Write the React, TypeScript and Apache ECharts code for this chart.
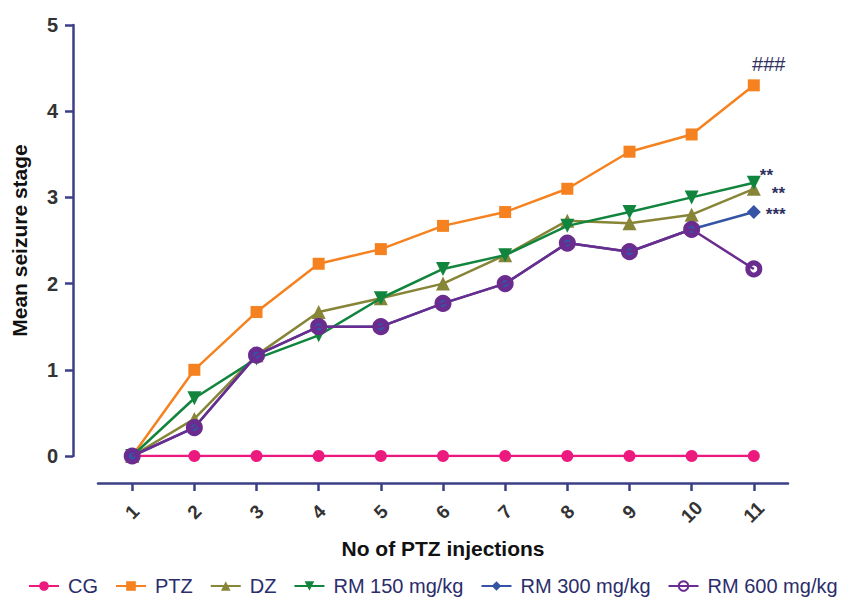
import React, { useEffect, useRef } from "react";
import * as echarts from "echarts";

const injections = [1, 2, 3, 4, 5, 6, 7, 8, 9, 10, 11];
const yTicks = [0, 1, 2, 3, 4, 5];

const seriesNames = ["CG", "PTZ", "DZ", "RM 150 mg/kg", "RM 300 mg/kg", "RM 600 mg/kg"];
const cg = [0, 0, 0, 0, 0, 0, 0, 0, 0, 0, 0];
const ptz = [0, 1.0, 1.67, 2.23, 2.4, 2.67, 2.83, 3.1, 3.53, 3.73, 4.3];
const dz = [0, 0.43, 1.17, 1.67, 1.83, 2.0, 2.33, 2.73, 2.7, 2.8, 3.1];
const rm150 = [0, 0.67, 1.13, 1.4, 1.83, 2.17, 2.33, 2.67, 2.83, 3.0, 3.17];
const rm300 = [0, 0.33, 1.17, 1.5, 1.5, 1.77, 2.0, 2.47, 2.37, 2.63, 2.83];
const rm600 = [0, 0.33, 1.17, 1.5, 1.5, 1.77, 2.0, 2.47, 2.37, 2.63, 2.17];
const significance = ["", "###", "**", "**", "***", ""];

const colors = ["#ec1a7f", "#f5821f", "#878537", "#11853d", "#3654a5", "#6b2c8f"];
const symbols = ["circle", "rect", "triangle", "triangle", "diamond", "circle"];

export default function App() {
  const ref = useRef<HTMLDivElement>(null);
  useEffect(() => {
    if (!ref.current) return;
    const chart = echarts.init(ref.current, null, { renderer: "svg" });
    const values = [cg, ptz, dz, rm150, rm300, rm600];
    const sizes = [12, 12, 14, 14, 14, 12];
    const labelOffsets: any[] = [
      [0, 0],
      [15, 0],
      [6, 5],
      [-6, -7],
      [0, 2],
      [0, 0],
    ];
    const labelPos = ["right", "top", "right", "right", "right", "right"];
    const series = values.map((vals, s) => ({
      name: seriesNames[s],
      type: "line",
      data: vals.map((v, i) => {
        const item: any = { value: [injections[i], v] };
        if (i === vals.length - 1 && significance[s]) {
          item.label = {
            show: true,
            formatter: significance[s],
            position: labelPos[s],
            offset: labelOffsets[s],
            color: "#2e3060",
            fontSize: s === 1 ? 20 : 17,
            fontWeight: s === 1 ? "normal" : "bold",
            fontFamily: "Liberation Sans",
          };
        }
        return item;
      }),
      symbol: symbols[s],
      symbolSize: sizes[s],
      symbolRotate: s === 3 ? 180 : 0,
      lineStyle: { color: colors[s], width: 2.5 },
      itemStyle:
        s === 5
          ? { color: "rgba(0,0,0,0)", borderColor: colors[s], borderWidth: 5 }
          : { color: colors[s], borderWidth: 0 },
      emphasis: { disabled: true },
      z: 2 + s,
    }));
    chart.setOption({
      animation: false,
      textStyle: { fontFamily: "Liberation Sans" },
      grid: { left: 98, right: 53, top: 25, bottom: 146 },
      xAxis: {
        type: "value",
        min: 0.45,
        max: 11.55,
        offset: 27,
        splitLine: { show: false },
        axisLine: { show: true, onZero: false, lineStyle: { color: "#3b3f88", width: 2.5 } },
        axisTick: {
          show: true,
          length: 8,
          customValues: injections,
          lineStyle: { color: "#3b3f88", width: 2.5 },
        },
        axisLabel: {
          customValues: injections,
          rotate: 45,
          align: "center",
          verticalAlign: "middle",
          margin: 29,
          color: "#333333",
          fontWeight: "bold",
          fontSize: 19,
        },
        name: "No of PTZ injections",
        nameLocation: "middle",
        nameGap: 55,
        nameTextStyle: { color: "#111111", fontWeight: "bold", fontSize: 21 },
      },
      yAxis: {
        type: "value",
        min: 0,
        max: 5,
        interval: 1,
        offset: 25,
        splitLine: { show: false },
        axisLine: { show: true, lineStyle: { color: "#3b3f88", width: 2.5 } },
        axisTick: { show: true, length: 8, lineStyle: { color: "#3b3f88", width: 2.5 } },
        axisLabel: {
          color: "#333333",
          fontWeight: "bold",
          fontSize: 20,
          margin: 15,
          formatter: (v: number) => (yTicks.includes(v) ? String(v) : ""),
        },
        name: "Mean seizure stage",
        nameLocation: "middle",
        nameGap: 43,
        nameTextStyle: { color: "#111111", fontWeight: "bold", fontSize: 21 },
      },
      legend: {
        bottom: 6,
        left: 28,
        width: 813,
        padding: 0,
        itemWidth: 30,
        itemHeight: 12,
        itemGap: 17,
        data: seriesNames,
        textStyle: {
          color: "#2b2d6b",
          fontSize: 20,
          fontFamily: "Liberation Sans",
          padding: [0, 0, 0, 4],
        },
      },
      series,
    });
    return () => chart.dispose();
  }, []);
  return (
    <div
      ref={ref}
      style={{ width: 841, height: 602, position: "fixed", left: 0, top: 0, background: "#fff" }}
    />
  );
}
